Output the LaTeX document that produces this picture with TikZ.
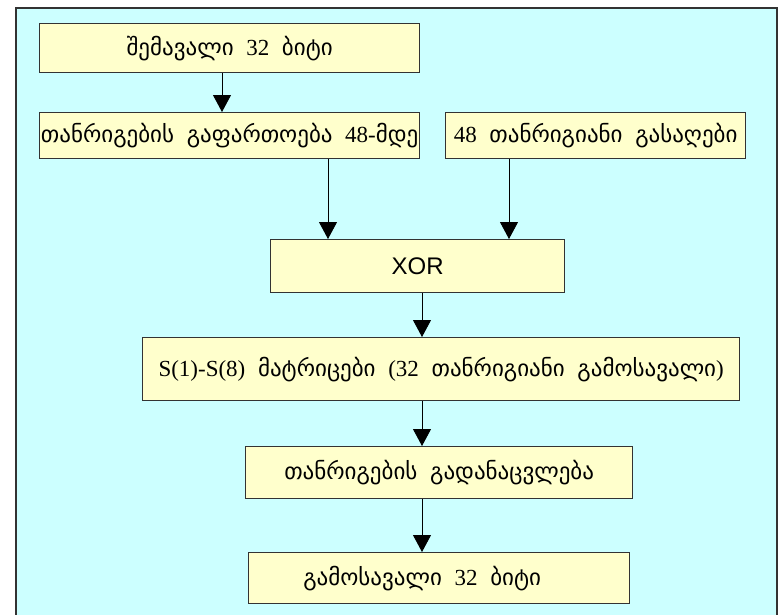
\documentclass[tikz,border=0pt]{standalone}
\usepackage{fontspec}
\setmainfont{Liberation Serif}
\newfontfamily\geo{DejaVu Sans}
\newfontfamily\arial{Liberation Sans}
\usetikzlibrary{arrows.meta}
\definecolor{panel}{HTML}{CCFFFF}
\definecolor{boxfill}{HTML}{FFFFCC}
\definecolor{edge}{HTML}{333333}
% wide word gap used inside the block labels
\newcommand{\gap}{\hspace{0.55em}}

\begin{document}
\begin{tikzpicture}[x=1pt,y=-1pt,
  blockbox/.style={draw=edge, line width=1.3pt, fill=boxfill, inner sep=0pt,
    anchor=north west, font=\fontsize{23}{26}\selectfont},
  arr/.style={draw=black, line width=0.9pt, -{Triangle[width=18pt,length=17pt]}}]
\useasboundingbox (0,0) rectangle (778,614);
\fill[white] (0,0) rectangle (778,614);
% outer panel, open at the bottom
\draw[edge, line width=2pt, fill=panel] (16,630) -- (16,8) -- (777,8) -- (777,630);

% blocks
\node[blockbox, minimum width=380pt, minimum height=49pt] (b1) at (39,23)
  {{\geo შემავალი}\gap 32\gap{\geo ბიტი}};
\node[blockbox, minimum width=380pt, minimum height=46pt] (b2) at (39,112)
  {{\geo თანრიგების\gap გაფართოება}\gap 48-{\geo მდე}};
\node[blockbox, minimum width=300pt, minimum height=46pt] (b3) at (445,112)
  {48\gap{\geo თანრიგიანი\gap გასაღები}};
\node[blockbox, minimum width=294pt, minimum height=53pt,
      font=\arial\fontsize{24}{27}\selectfont] (xor) at (270,239) {XOR};
\node[blockbox, minimum width=597pt, minimum height=63pt] (sb) at (142,337)
  {S(1)-S(8)\gap{\geo მატრიცები}\gap(32\gap{\geo თანრიგიანი\gap გამოსავალი})};
\node[blockbox, minimum width=387pt, minimum height=52pt] (b5) at (245,446)
  {{\geo თანრიგების\gap გადანაცვლება}};
\node[blockbox, minimum width=381pt, minimum height=51pt] (b6) at (248,552)
  {{\geo გამოსავალი}\gap 32\gap{\geo ბიტი}\kern34pt\null};

% connector columns
\coordinate (c1) at (222,0);
\coordinate (c2) at (328,0);
\coordinate (c3) at (509,0);
\coordinate (c4) at (422,0);

\draw[arr] (b1.south -| c1) -- (b2.north -| c1);
\draw[arr] (b2.south -| c2) -- (xor.north -| c2);
\draw[arr] (b3.south -| c3) -- (xor.north -| c3);
\draw[arr] (xor.south -| c4) -- (sb.north -| c4);
\draw[arr] (sb.south -| c4) -- (b5.north -| c4);
\draw[arr] (b5.south -| c4) -- (b6.north -| c4);
\end{tikzpicture}
\end{document}
